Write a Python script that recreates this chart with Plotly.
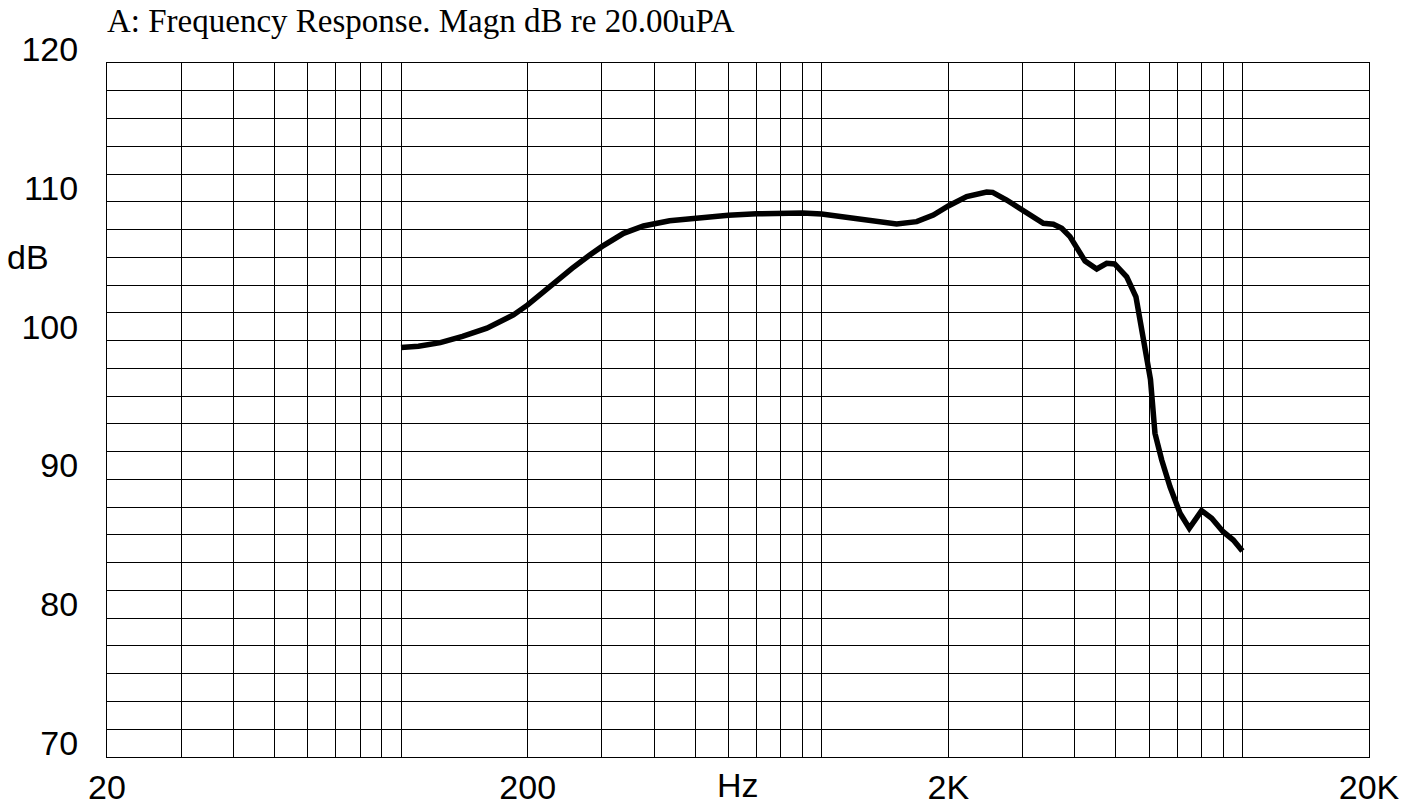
import plotly.graph_objects as go

# ---- data ----
freq_hz = [100, 110, 124, 140, 160, 185, 200, 230, 255, 281, 300, 338, 377, 435, 500, 568,
           600, 700, 800, 900, 1000, 1126, 1280, 1507, 1682, 1842, 2000, 2211, 2467, 2550,
           2752, 3000, 3184, 3364, 3553, 3720, 3892, 4040, 4227, 4506, 4758, 4970, 5309,
           5585, 5709, 5878, 6047, 6198, 6431, 6730, 7109, 7479, 8000, 8454, 9000, 9516, 10000]
magn_db = [99.5, 99.6, 99.85, 100.3, 100.9, 101.85, 102.57, 104.13, 105.2, 106.17, 106.77, 107.73,
           108.26, 108.64, 108.83, 108.98, 109.03, 109.14, 109.21, 109.19, 109.12, 108.93, 108.64,
           108.4, 108.57, 109.05, 109.7, 110.37, 110.7, 110.68, 110.13, 109.4, 108.81, 108.45,
           108.38, 108.09, 107.49, 106.77, 105.73, 105.16, 105.57, 105.52, 104.6, 103.16, 101.48,
           99.56, 97.2, 93.32, 91.4, 89.47, 87.56, 86.48, 87.75, 87.2, 86.23, 85.63, 84.84]

x_grid_vals = [20, 30, 40, 50, 60, 70, 80, 90,
               100, 200, 300, 400, 500, 600, 700, 800, 900,
               1000, 2000, 3000, 4000, 5000, 6000, 7000, 8000, 9000,
               10000, 20000]
x_tick_labels = {20: "20", 200: "200", 2000: "2K", 20000: "20K"}
y_tick_vals = [70, 80, 90, 100, 110, 120]
y_tick_text = ["70", "80", "90", "100", "110", "120"]

title_text = "A: Frequency Response. Magn dB re 20.00uPA"
x_title = "Hz"
y_title = "dB"

SANS = "Liberation Sans, Arial, sans-serif"
SERIF = "Liberation Serif, Times New Roman, serif"

fig = go.Figure()
fig.add_trace(go.Scatter(x=freq_hz, y=magn_db, mode="lines",
                         line=dict(color="black", width=5.5),
                         hoverinfo="skip", showlegend=False))

fig.update_layout(
    width=1423, height=809,
    margin=dict(l=107, r=54, t=63, b=52, autoexpand=False),
    paper_bgcolor="white", plot_bgcolor="white",
    showlegend=False,
)

fig.update_xaxes(
    type="log", range=[1.30103, 4.30103], automargin=False,
    tickmode="array", tickvals=x_grid_vals,
    ticktext=[x_tick_labels.get(v, "") for v in x_grid_vals],
    showgrid=True, gridcolor="black", gridwidth=1,
    showline=True, linecolor="black", linewidth=1, mirror=True,
    ticks="", ticklen=0, zeroline=False,
    tickfont=dict(family=SANS, size=34, color="black"),
    ticklabelstandoff=0,
)
fig.update_yaxes(
    range=[70, 120], automargin=False,
    tickmode="array", tickvals=y_tick_vals, ticktext=y_tick_text,
    showgrid=True, gridcolor="black", gridwidth=1,
    minor=dict(tickmode="linear", tick0=70, dtick=2, showgrid=True,
               gridcolor="black", gridwidth=1, ticks=""),
    showline=True, linecolor="black", linewidth=1, mirror=True,
    ticks="", ticklen=0, zeroline=False,
    tickfont=dict(family=SANS, size=34, color="black"),
    ticklabelshift=-14, ticklabelstandoff=21,
)

fig.add_annotation(text=title_text, xref="paper", yref="paper", x=0, y=1,
                   xanchor="left", yanchor="middle", xshift=-2, yshift=42,
                   showarrow=False, font=dict(family=SERIF, size=33, color="black"))
fig.add_annotation(text=x_title, xref="paper", yref="paper", x=0.5, y=0,
                   xanchor="center", yanchor="middle", yshift=-28,
                   showarrow=False, font=dict(family=SANS, size=34, color="black"))
fig.add_annotation(text=y_title, xref="paper", yref="y", x=0, y=106,
                   xanchor="center", yanchor="middle", xshift=-79,
                   showarrow=False, font=dict(family=SANS, size=34, color="black"))

fig.write_html(
    "out.html",
    config={"displayModeBar": False},
    post_script="document.body.style.margin='0px';document.body.style.overflow='hidden';",
)
